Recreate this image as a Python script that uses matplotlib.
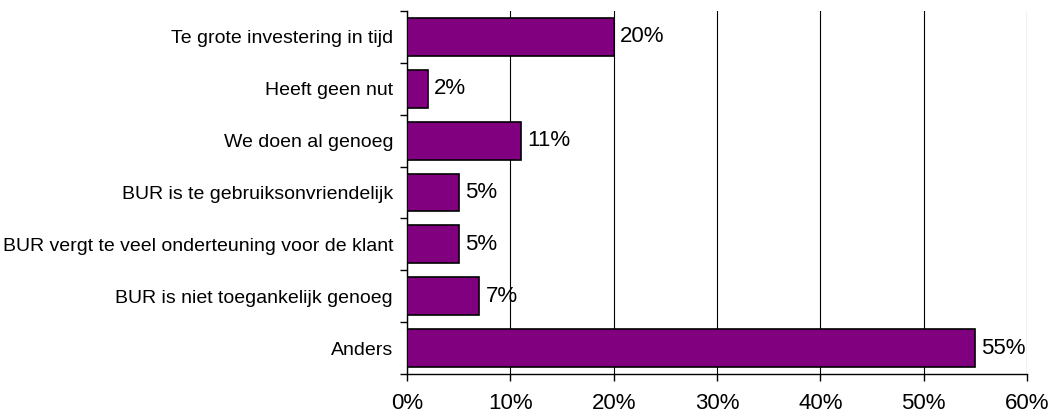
import matplotlib.pyplot as plt
from matplotlib.ticker import FuncFormatter, FixedLocator

plt.rcParams["font.family"] = ["Liberation Sans", "DejaVu Sans"]

categories = [
    "Te grote investering in tijd",
    "Heeft geen nut",
    "We doen al genoeg",
    "BUR is te gebruiksonvriendelijk",
    "BUR vergt te veel onderteuning voor de klant",
    "BUR is niet toegankelijk genoeg",
    "Anders",
]
values = [20, 2, 11, 5, 5, 7, 55]

fig = plt.figure(figsize=(10.51, 4.19), dpi=100)
ax = fig.add_axes([407 / 1051, 1 - 374 / 419, 620 / 1051, 363 / 419])

pos = list(range(len(categories)))
ax.barh(pos, values, height=0.73, color="#800080", edgecolor="black", linewidth=1.2, zorder=3)

for p, v in zip(pos, values):
    ax.text(v + 0.6, p, f"{v}%", va="center", ha="left", fontsize=16, zorder=4)

ax.set_xlim(0, 60)
ax.set_ylim(len(categories) - 0.5, -0.5)
ax.set_xticks(range(0, 61, 10))
ax.xaxis.set_major_formatter(FuncFormatter(lambda x, _: f"{x:.0f}%"))
ax.tick_params(axis="x", labelsize=16, length=5, width=1, pad=9, color="black")

ax.set_yticks(pos)
ax.set_yticklabels(categories, fontsize=14)
ax.tick_params(axis="y", length=0, pad=10)
ax.yaxis.set_minor_locator(FixedLocator([p - 0.5 for p in pos] + [len(pos) - 0.5]))
ax.tick_params(axis="y", which="minor", length=5, width=1, color="black")

ax.grid(axis="x", color="black", linewidth=0.8, zorder=0)
ax.spines["top"].set_visible(False)
ax.spines["right"].set_visible(False)
ax.spines["left"].set_linewidth(1)
ax.spines["bottom"].set_linewidth(1)

fig.savefig("out.png", dpi=100)
